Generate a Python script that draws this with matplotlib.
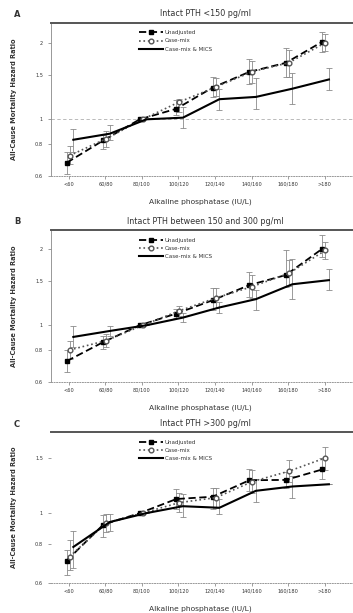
import matplotlib

matplotlib.use("Agg")
import matplotlib.pyplot as plt
from matplotlib.ticker import FixedLocator, FixedFormatter, NullLocator

# alkaline phosphatase categories (IU/L)
categories = ["<60", "60/80", "80/100", "100/120", "120/140", "140/160", "160/180", ">180"]
series_names = ["Unadjusted", "Case-mix", "Case-mix & MICS"]

# panel A: intact PTH < 150 pg/ml
a_unadj = [0.675, 0.826, 1.0, 1.10, 1.334, 1.537, 1.668, 2.02]
a_unadj_lo = [0.612, 0.766, 1.0, 1.037, 1.225, 1.383, 1.47, 1.84]
a_unadj_hi = [0.745, 0.864, 1.0, 1.196, 1.47, 1.72, 1.90, 2.21]
a_case = [0.72, 0.839, 1.0, 1.17, 1.34, 1.54, 1.67, 2.0]
a_case_lo = [0.668, 0.78, 1.0, 1.069, 1.23, 1.39, 1.47, 1.86]
a_case_hi = [0.785, 0.90, 1.0, 1.207, 1.45, 1.70, 1.88, 2.17]
a_mics = [0.831, 0.878, 1.0, 1.015, 1.20, 1.225, 1.32, 1.435]
a_mics_lo = [0.743, 0.826, 1.0, 0.927, 1.085, 1.10, 1.153, 1.30]
a_mics_hi = [0.919, 0.947, 1.0, 1.118, 1.32, 1.45, 1.515, 1.585]

# panel B: intact PTH between 150 and 300 pg/ml
b_unadj = [0.723, 0.859, 1.0, 1.112, 1.255, 1.439, 1.576, 2.0]
b_unadj_lo = [0.654, 0.81, 1.0, 1.07, 1.146, 1.29, 1.416, 1.86]
b_unadj_hi = [0.797, 0.91, 1.0, 1.16, 1.396, 1.62, 1.977, 2.27]
b_case = [0.80, 0.87, 1.0, 1.14, 1.28, 1.42, 1.60, 1.97]
b_case_lo = [0.735, 0.82, 1.0, 1.09, 1.17, 1.28, 1.43, 1.83]
b_case_hi = [0.87, 0.92, 1.0, 1.19, 1.40, 1.58, 1.80, 2.13]
b_mics = [0.90, 0.95, 1.0, 1.072, 1.175, 1.267, 1.45, 1.505]
b_mics_lo = [0.82, 0.91, 1.0, 1.03, 1.12, 1.15, 1.27, 1.375]
b_mics_hi = [0.99, 0.99, 1.0, 1.12, 1.23, 1.38, 1.83, 1.66]

# panel C: intact PTH > 300 pg/ml
c_unadj = [0.706, 0.919, 1.0, 1.109, 1.128, 1.273, 1.276, 1.378]
c_unadj_lo = [0.636, 0.84, 1.0, 1.03, 1.03, 1.178, 1.20, 1.28]
c_unadj_hi = [0.763, 0.983, 1.0, 1.19, 1.20, 1.38, 1.35, 1.50]
c_case = [0.727, 0.93, 1.0, 1.08, 1.12, 1.26, 1.36, 1.50]
c_case_lo = [0.66, 0.87, 1.0, 1.01, 1.04, 1.16, 1.26, 1.37]
c_case_hi = [0.82, 0.99, 1.0, 1.16, 1.20, 1.37, 1.48, 1.62]
c_mics = [0.78, 0.937, 1.0, 1.052, 1.04, 1.178, 1.216, 1.236]
c_mics_lo = [0.668, 0.88, 1.0, 0.97, 0.99, 1.083, 1.12, 1.236]
c_mics_hi = [0.88, 0.99, 1.0, 1.15, 1.11, 1.28, 1.31, 1.236]

W, H = 353, 613
fig = plt.figure(figsize=(W / 100, H / 100), dpi=100)
fig.patch.set_facecolor("white")


def fy(py):
    return 1 - py / H


def draw_panel(top_px, bottom_px, letter, title, ylim, yticks, data, refline=False,
               left_spine=True):
    ax = fig.add_axes([50.7 / W, fy(bottom_px), 1 - 50.7 / W, (bottom_px - top_px) / H])
    ax.set_yscale("log")
    ax.set_xlim(-0.5, 7.78)
    ax.set_ylim(*ylim)
    x = list(range(len(categories)))

    styles = [
        dict(color="black", ls=(0, (4, 2)), lw=1.3, marker="s", ms=3.4, mfc="black", mec="black"),
        dict(color="#555555", ls=":", lw=1.2, marker="o", ms=3.4, mfc="white", mec="#555555"),
        dict(color="black", ls="-", lw=1.5, marker=None),
    ]
    offsets = [-0.06, 0.02, 0.12]
    for (vals, lo, hi), st, off, name in zip(data, styles, offsets, series_names):
        xs = [xi + off for xi in x]
        yerr = [[v - l for v, l in zip(vals, lo)], [h - v for v, h in zip(vals, hi)]]
        ax.errorbar(xs, vals, yerr=yerr, fmt="none", ecolor="#8a8a8a", elinewidth=0.6,
                    capsize=2.2, capthick=0.6, zorder=2)
        ax.plot(xs, vals, label=name, zorder=3, **st)

    if refline:
        ax.axhline(1.0, color="#b0b0b0", ls=(0, (4, 3)), lw=0.6, zorder=1)

    ax.yaxis.set_major_locator(FixedLocator(yticks))
    ax.yaxis.set_major_formatter(FixedFormatter([f"{t:g}" for t in yticks]))
    ax.yaxis.set_minor_locator(NullLocator())
    ax.set_xticks(x)
    ax.set_xticklabels(categories)
    ax.tick_params(axis="both", labelsize=3.6, length=2, width=0.5, color="#777777",
                   labelcolor="#333333")
    ax.tick_params(axis="x", pad=2.5)

    ax.spines["right"].set_visible(False)
    ax.spines["top"].set_linewidth(1.4)
    ax.spines["top"].set_color("#555555")
    ax.spines["bottom"].set_linestyle(":")
    ax.spines["bottom"].set_color("#999999")
    ax.spines["bottom"].set_linewidth(0.7)
    ax.spines["left"].set_color("#888888")
    ax.spines["left"].set_linewidth(0.6)
    ax.spines["left"].set_visible(left_spine)

    ax.set_ylabel("All-Cause Mortality Hazard Ratio", fontsize=4.8, color="#333333",
                  fontweight="bold", labelpad=4)
    ax.yaxis.set_label_coords(-0.11, 0.5)

    leg = ax.legend(loc="upper left", bbox_to_anchor=(0.28, 0.975), fontsize=4.0,
                    frameon=False, handlelength=4.2, labelspacing=0.55, borderpad=0.2,
                    handletextpad=0.4)
    for t in leg.get_texts():
        t.set_color("#333333")

    fig.text(205 / W, fy(top_px - 9), title, ha="center", va="center", fontsize=5.8,
             color="#333333")
    fig.text(17 / W, fy(top_px - 8), letter, ha="center", va="center", fontsize=6,
             fontweight="bold", color="#333333")
    fig.text(200 / W, fy(bottom_px + 26), "Alkaline phosphatase (IU/L)", ha="center",
             va="center", fontsize=5.4, color="#333333")
    return ax


draw_panel(22.7, 175.7, "A", "Intact PTH <150 pg/ml", (0.6, 2.4), [0.6, 0.8, 1, 1.5, 2],
           [(a_unadj, a_unadj_lo, a_unadj_hi), (a_case, a_case_lo, a_case_hi),
            (a_mics, a_mics_lo, a_mics_hi)], refline=True)
draw_panel(230, 381.7, "B", "Intact PTH between 150 and 300 pg/ml", (0.6, 2.37),
           [0.6, 0.8, 1, 1.5, 2],
           [(b_unadj, b_unadj_lo, b_unadj_hi), (b_case, b_case_lo, b_case_hi),
            (b_mics, b_mics_lo, b_mics_hi)])
draw_panel(432.3, 582.7, "C", "Intact PTH >300 pg/ml", (0.6, 1.81), [0.6, 0.8, 1, 1.5],
           [(c_unadj, c_unadj_lo, c_unadj_hi), (c_case, c_case_lo, c_case_hi),
            (c_mics, c_mics_lo, c_mics_hi)], left_spine=False)

fig.savefig("out.png", dpi=100, facecolor="white")
